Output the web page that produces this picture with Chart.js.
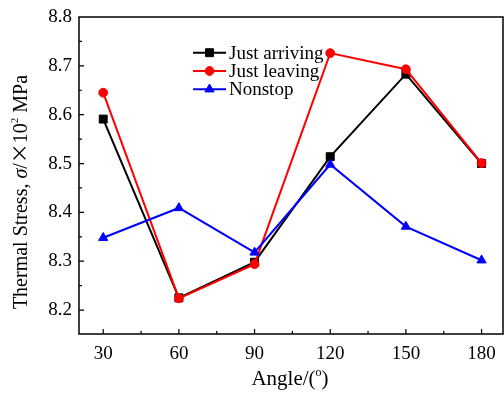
<!DOCTYPE html>
<html>
<head>
<meta charset="utf-8">
<script src="https://cdn.jsdelivr.net/npm/chart.js@4/dist/chart.umd.min.js"></script>
<style>
  html, body { margin: 0; padding: 0; background: #fff; overflow: hidden; }
  canvas { display: block; }
</style>
</head>
<body>
<canvas id="stressChart" width="504" height="399"></canvas>
<script>
// Chart data
const angles = [30, 60, 90, 120, 150, 180];
const justArriving = [8.591, 8.225, 8.298, 8.514, 8.683, 8.500];
const justLeaving = [8.645, 8.224, 8.294, 8.726, 8.693, 8.501];
const nonstop = [8.348, 8.409, 8.318, 8.498, 8.371, 8.302];
const seriesNames = ['Just arriving', 'Just leaving', 'Nonstop'];
const xTickLabels = [30, 60, 90, 120, 150, 180];
const yTickLabels = [8.2, 8.3, 8.4, 8.5, 8.6, 8.7, 8.8];

const SERIF = '"Liberation Serif", "DejaVu Serif", serif';

function toPoints(values) {
  return angles.map((a, i) => ({ x: a, y: values[i] }));
}

// Frame, inward ticks, tick labels, axis titles and legend
const framePlugin = {
  id: 'frame',
  afterDraw(chart) {
    const ctx = chart.ctx;
    const area = chart.chartArea;
    const xs = chart.scales.x;
    const ys = chart.scales.y;
    ctx.save();
    ctx.strokeStyle = '#000';
    ctx.lineWidth = 1.5;
    ctx.strokeRect(area.left, area.top, area.right - area.left, area.bottom - area.top);

    ctx.lineWidth = 1.2;
    ctx.beginPath();
    // x ticks (major + minor)
    for (let v = 15; v <= 195; v += 15) {
      const px = xs.getPixelForValue(v);
      if (px <= area.left + 1 || px >= area.right - 1) continue;
      const len = v % 30 === 0 ? 5 : 3;
      ctx.moveTo(px, area.bottom);
      ctx.lineTo(px, area.bottom - len);
    }
    // y ticks (major + minor)
    for (let k = 0; k <= 14; k++) {
      const v = 8.15 + k * 0.05;
      const py = ys.getPixelForValue(v);
      if (py >= area.bottom - 1 || py <= area.top + 1) continue;
      const len = k % 2 === 1 ? 5 : 3;
      ctx.moveTo(area.left, py);
      ctx.lineTo(area.left + len, py);
    }
    ctx.stroke();

    // tick labels
    ctx.fillStyle = '#000';
    ctx.font = '19px ' + SERIF;
    ctx.textAlign = 'center';
    ctx.textBaseline = 'middle';
    xTickLabels.forEach(v => {
      ctx.fillText(String(v), xs.getPixelForValue(v), area.bottom + 20);
    });
    ctx.textAlign = 'right';
    yTickLabels.forEach(v => {
      ctx.fillText(v.toFixed(1), area.left - 7, ys.getPixelForValue(v));
    });

    // x axis title: Angle/(°)
    ctx.textAlign = 'left';
    ctx.textBaseline = 'alphabetic';
    const p1 = 'Angle/(';
    const p3 = ')';
    ctx.font = '12px ' + SERIF;
    const wo = ctx.measureText('o').width;
    ctx.font = '21px ' + SERIF;
    const w1 = ctx.measureText(p1).width;
    const w3 = ctx.measureText(p3).width;
    const tx = 290 - (w1 + wo + w3) / 2;
    const ty = 385;
    ctx.fillText(p1, tx, ty);
    ctx.font = '12px ' + SERIF;
    ctx.fillText('o', tx + w1, ty - 9);
    ctx.font = '21px ' + SERIF;
    ctx.fillText(p3, tx + w1 + wo, ty);

    // y axis title: Thermal Stress, σ/ × 10² MPa
    const parts = [
      { t: 'Thermal Stress, ', f: '20px ' + SERIF, dy: 0 },
      { t: 'σ', f: 'italic 20px ' + SERIF, dy: 0 },
      { t: '/', f: '20px ' + SERIF, dy: 0 },
      { t: '×', f: '20px "Noto Sans CJK SC", ' + SERIF, dy: 0 },
      { t: '10', f: '20px ' + SERIF, dy: 0 },
      { t: '2', f: '11px ' + SERIF, dy: -9 },
      { t: ' MPa', f: '20px ' + SERIF, dy: 0 }
    ];
    let total = 0;
    parts.forEach(p => { ctx.font = p.f; p.w = ctx.measureText(p.t).width; total += p.w; });
    ctx.translate(27, 192);
    ctx.rotate(-Math.PI / 2);
    let cx = -total / 2;
    parts.forEach(p => {
      ctx.font = p.f;
      ctx.fillText(p.t, cx, p.dy);
      cx += p.w;
    });
    ctx.restore();

    // legend
    ctx.save();
    const rows = [52.7, 71, 89.3];
    chart.data.datasets.forEach((ds, i) => {
      const y = rows[i];
      ctx.strokeStyle = ds.borderColor;
      ctx.lineWidth = 2;
      ctx.beginPath();
      ctx.moveTo(193, y);
      ctx.lineTo(226, y);
      ctx.stroke();
      ctx.fillStyle = ds.pointBackgroundColor;
      ctx.strokeStyle = ds.borderColor;
      ctx.lineWidth = 1;
      Chart.helpers.drawPoint(ctx, {
        pointStyle: ds.pointStyle,
        radius: ds.pointRadius,
        borderWidth: 1,
        rotation: 0
      }, 209.5, y);
      ctx.fillStyle = '#000';
      ctx.font = '19px ' + SERIF;
      ctx.textAlign = 'left';
      ctx.textBaseline = 'middle';
      ctx.fillText(ds.label, 229, y + 1);
    });
    ctx.restore();
  }
};

function makeDataset(label, values, color, style, radius, order) {
  return {
    label: label,
    data: toPoints(values),
    borderColor: color,
    backgroundColor: color,
    pointBackgroundColor: color,
    pointBorderColor: color,
    pointStyle: style,
    pointRadius: radius,
    pointBorderWidth: 1,
    borderWidth: 2,
    tension: 0,
    order: order
  };
}

new Chart(document.getElementById('stressChart'), {
  type: 'line',
  data: {
    datasets: [
      makeDataset(seriesNames[0], justArriving, '#000000', 'rect', 5.6, 2),
      makeDataset(seriesNames[1], justLeaving, '#ff0000', 'circle', 4.4, 1),
      makeDataset(seriesNames[2], nonstop, '#0000ff', 'triangle', 5.3, 0)
    ]
  },
  options: {
    responsive: false,
    animation: false,
    devicePixelRatio: 1,
    layout: { autoPadding: false, padding: { left: 79, right: 1, top: 17, bottom: 65 } },
    plugins: {
      legend: { display: false },
      tooltip: { enabled: false }
    },
    scales: {
      x: { type: 'linear', min: 20.4, max: 188.5, display: false },
      y: { type: 'linear', min: 8.151, max: 8.8, display: false }
    }
  },
  plugins: [framePlugin]
});
</script>
</body>
</html>
